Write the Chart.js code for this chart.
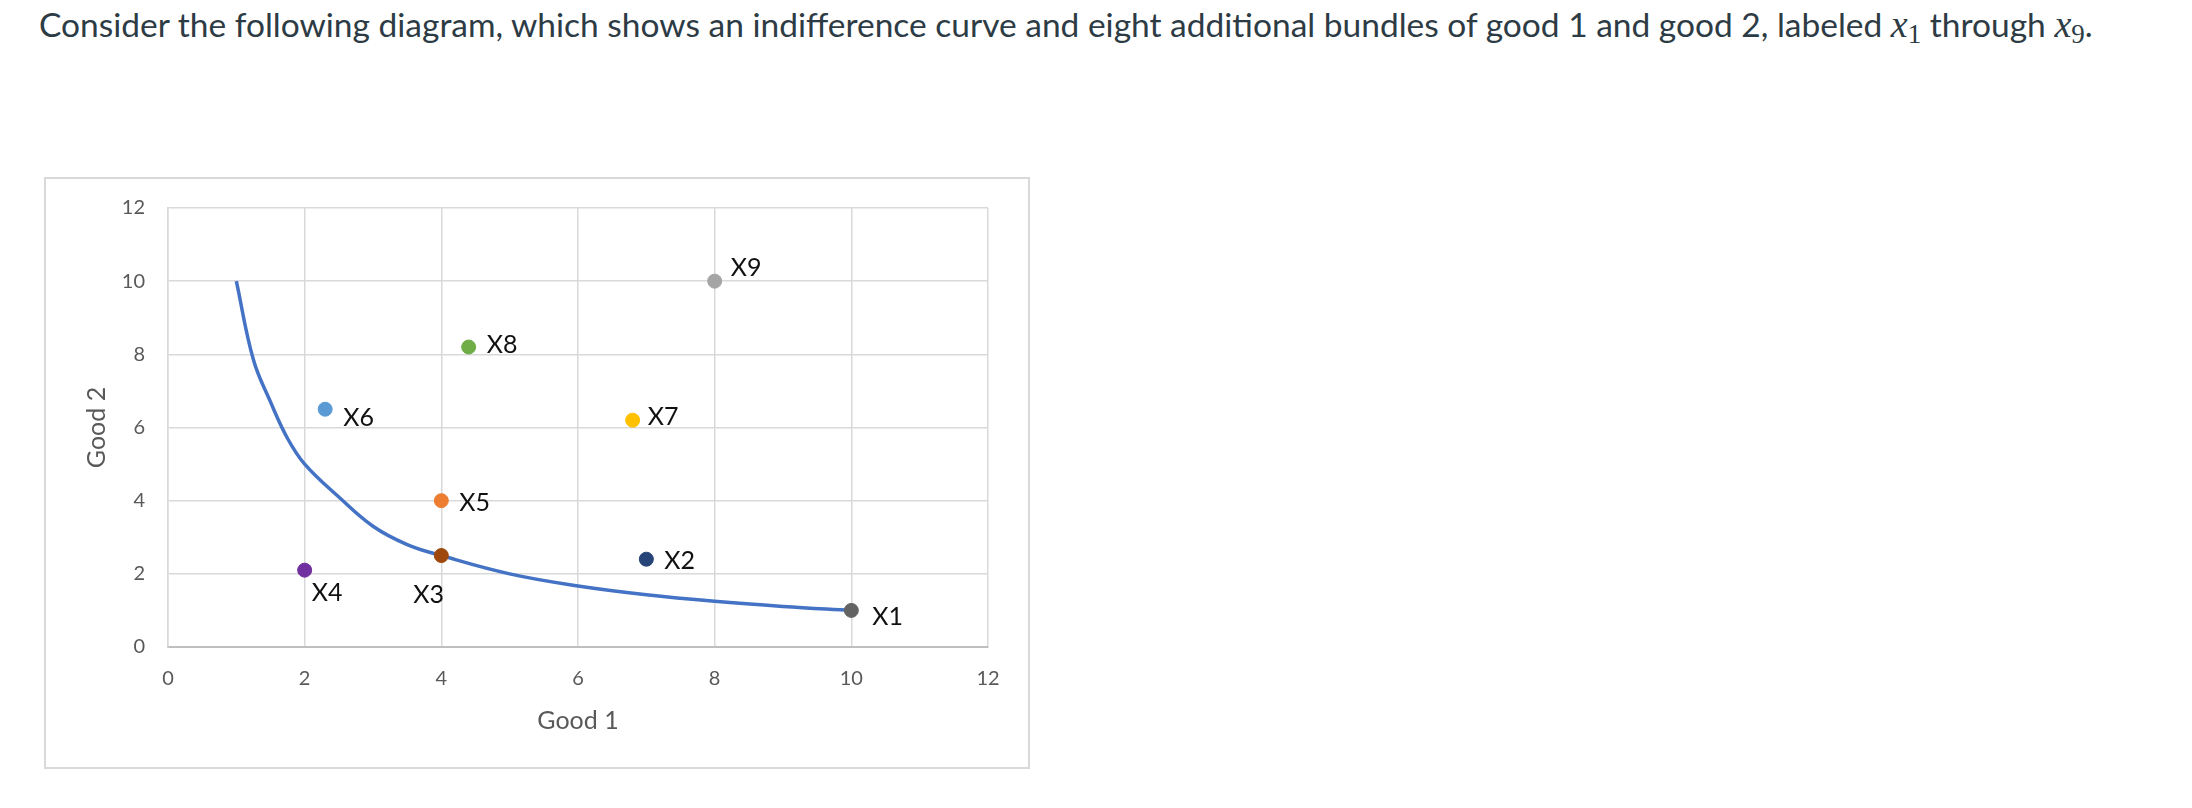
<!DOCTYPE html>
<html>
<head>
<meta charset="utf-8">
<script src="https://cdn.jsdelivr.net/npm/chart.js@4"></script>
<style>
  body { margin: 0; background: #fff; width: 2192px; height: 808px; overflow: hidden; position: relative; }
  #question {
    position: absolute; left: 39px; top: 2px;
    font-family: Lato, sans-serif; font-size: 33.5px; line-height: 1.2; color: #2d3b45; white-space: nowrap;
  }
  #question .m { font-family: "Liberation Serif", serif; font-style: italic; font-size: 38px; }
  #question sub { font-family: "Liberation Serif", serif; font-size: 27px; vertical-align: -6px; line-height: 0; }
  #box {
    position: absolute; left: 44px; top: 177px; width: 986px; height: 592px;
    box-sizing: border-box; border: 2px solid #d9d9d9; background: #fff;
  }
  #box canvas { position: absolute; left: 0; top: 0; }
</style>
</head>
<body>
<div id="question">Consider the following diagram, which shows an indifference curve and eight additional bundles of good 1 and good 2, labeled <span class="m">x</span><sub>1</sub> through <span class="m">x</span><sub>9</sub>.</div>
<div id="box"><canvas id="chart" width="982" height="588"></canvas></div>
<script>
// indifference curve
const curveX = [1, 1.25, 1.5, 1.75, 2, 2.5, 3, 3.5, 4, 5, 6, 7, 8, 9, 10];
const curveY = [10, 7.85, 6.7, 5.7, 5.0, 4.1, 3.3, 2.8, 2.5, 2.0, 1.67, 1.43, 1.25, 1.11, 1.0];

// bundles
const bundleNames = ["X1", "X2", "X3", "X4", "X5", "X6", "X7", "X8", "X9"];
const good1 = [10, 7, 4, 2, 4, 2.3, 6.8, 4.4, 8];
const good2 = [1, 2.4, 2.5, 2.1, 4, 6.5, 6.2, 8.2, 10];
const bundleColors = ["#636363", "#264478", "#9e480e", "#7030a0", "#ed7d31", "#5b9bd5", "#ffc000", "#70ad47", "#a5a5a5"];

// label offsets from the point (px): left edge / vertical centre
const labelDx = [21, 18, -28, 7, 18, 18, 15, 18, 16];
const labelDy = [7, 2, 39, 23, 2, 9, -3, -2, -13];

const ticks = [0, 2, 4, 6, 8, 10, 12];

const datasets = [{
  type: "line",
  data: curveX.map((x, i) => ({ x: x, y: curveY[i] })),
  borderColor: "#4472c4",
  borderWidth: 3.5,
  pointRadius: 0,
  tension: 0.4,
  fill: false,
  order: 2
}];
bundleNames.forEach((name, i) => {
  datasets.push({
    type: "scatter",
    label: name,
    data: [{ x: good1[i], y: good2[i] }],
    backgroundColor: bundleColors[i],
    borderColor: bundleColors[i],
    pointRadius: 7,
    order: 1
  });
});

const pointLabels = {
  id: "pointLabels",
  afterDatasetsDraw(chart) {
    const ctx = chart.ctx;
    const xs = chart.scales.x, ys = chart.scales.y;
    ctx.save();
    ctx.font = "25px Lato";
    ctx.fillStyle = "#111";
    ctx.textBaseline = "middle";
    ctx.textAlign = "left";
    bundleNames.forEach((name, i) => {
      const px = xs.getPixelForValue(good1[i]);
      const py = ys.getPixelForValue(good2[i]);
      ctx.fillText(name, px + labelDx[i], py + labelDy[i]);
    });
    ctx.restore();
  }
};

const tickFont = { family: "Lato", size: 20 };
const titleFont = { family: "Lato", size: 25 };

new Chart(document.getElementById("chart").getContext("2d"), {
  data: { datasets: datasets },
  options: {
    responsive: false,
    animation: false,
    layout: { padding: { left: 0, top: 29, right: 40, bottom: 0 } },
    plugins: { legend: { display: false }, tooltip: { enabled: false } },
    scales: {
      x: {
        type: "linear", min: 0, max: 12,
        afterBuildTicks: s => { s.ticks = ticks.map(v => ({ value: v })); },
        afterFit: s => { s.height = 120; s.paddingLeft = 0; s.paddingRight = 0; },
        grid: { color: "#d9d9d9", lineWidth: 1.5, drawTicks: false },
        border: { color: "#bfbfbf", width: 2 },
        ticks: { color: "#595959", font: tickFont, padding: 20, maxRotation: 0 },
        title: { display: true, text: "Good 1", color: "#595959", font: titleFont, padding: { top: 0, bottom: 31 } }
      },
      y: {
        type: "linear", min: 0, max: 12,
        afterBuildTicks: s => { s.ticks = ticks.map(v => ({ value: v })); },
        afterFit: s => { s.width = 122; s.paddingTop = 0; s.paddingBottom = 0; },
        grid: { color: "#d9d9d9", lineWidth: 1.5, drawTicks: false },
        border: { color: "#d9d9d9", width: 1.5 },
        ticks: { color: "#595959", font: tickFont, padding: 23 },
        title: { display: true, text: "Good 2", color: "#595959", font: titleFont, padding: { top: 36, bottom: 0 } }
      }
    }
  },
  plugins: [pointLabels]
});
</script>
</body>
</html>
